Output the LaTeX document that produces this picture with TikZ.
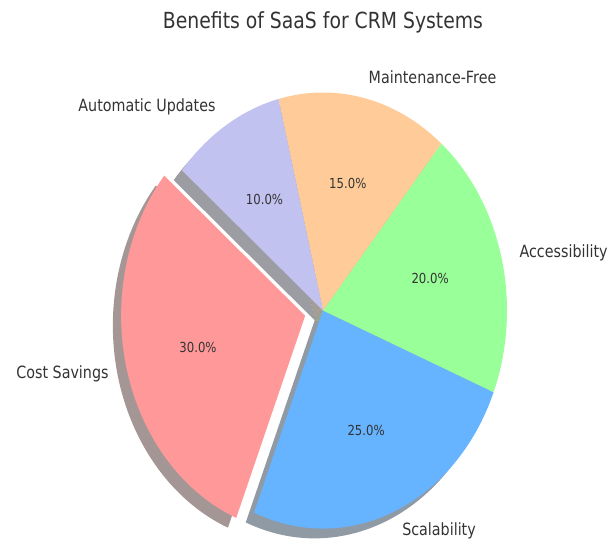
\documentclass[tikz,border=0pt]{standalone}
\usepackage{fontspec}
\setmainfont{DejaVu Sans}
\definecolor{costcol}{HTML}{FF9999}
\definecolor{scalcol}{HTML}{66B3FF}
\definecolor{acccol}{HTML}{99FF99}
\definecolor{maintcol}{HTML}{FFCC99}
\definecolor{autocol}{HTML}{C2C2F0}
\newcommand\tall[1]{\scalebox{1}[1.18]{#1}}

\begin{document}
\begin{tikzpicture}[x=1pt, y=1pt,
  pct/.style={font=\fontsize{11.7}{14}\selectfont, text=black!80},
  lbl/.style={font=\fontsize{14.3}{17}\selectfont, text=black!80, inner sep=0pt},
  shade/.style={fill opacity=0.5}]
 \useasboundingbox (-323,-231.5) rectangle (293,310.5);
 \node (title) [font=\fontsize{18.8}{22}\selectfont, text=black!80, anchor=base] at (0,282.5)
  {\tall{Benefits of SaaS for CRM Systems}};
 % shadows first
 \foreach \s/\e/\col/\dx/\dy in {140/248/costcol/-17.85/-5.27, 248/338/scalcol/0/0,
   338/410/acccol/0/0, 50/104/maintcol/0/0, 104/140/autocol/0/0}
  \fill[\col!30!black, shade, shift={(\dx-8.3,\dy-9.8)}]
   (0,0) -- (\s:184pt and 218pt) arc[start angle=\s, end angle=\e, x radius=184pt, y radius=218pt] -- cycle;
 % slices and labels
 \foreach \s/\e/\col/\nm/\lab/\pct/\dx/\dy in {140/248/costcol/cost/Cost Savings/30.0/-17.85/-5.27,
   248/338/scalcol/scal/Scalability/25.0/0/0, 338/410/acccol/acc/Accessibility/20.0/0/0,
   50/104/maintcol/maint/Maintenance-Free/15.0/0/0, 104/140/autocol/auto/Automatic Updates/10.0/0/0}
 {
  \pgfmathsetmacro\m{(\s+\e)/2}
  \pgfmathparse{cos(\m)<0 ? "east" : "west"}
  \let\side\pgfmathresult
  \begin{scope}[shift={(\dx,\dy)}]
   \fill[\col] (0,0) -- (\s:184pt and 218pt) arc[start angle=\s, end angle=\e, x radius=184pt, y radius=218pt] -- cycle;
   \node (\nm-pct) [pct] at (\m:110.4pt and 130.8pt) {\tall{\pct\%}};
   \node (\nm-lbl) [lbl, anchor=\side] at (\m:202.4pt and 239.8pt) {\tall{\lab}};
  \end{scope}
 }
\end{tikzpicture}
\end{document}
